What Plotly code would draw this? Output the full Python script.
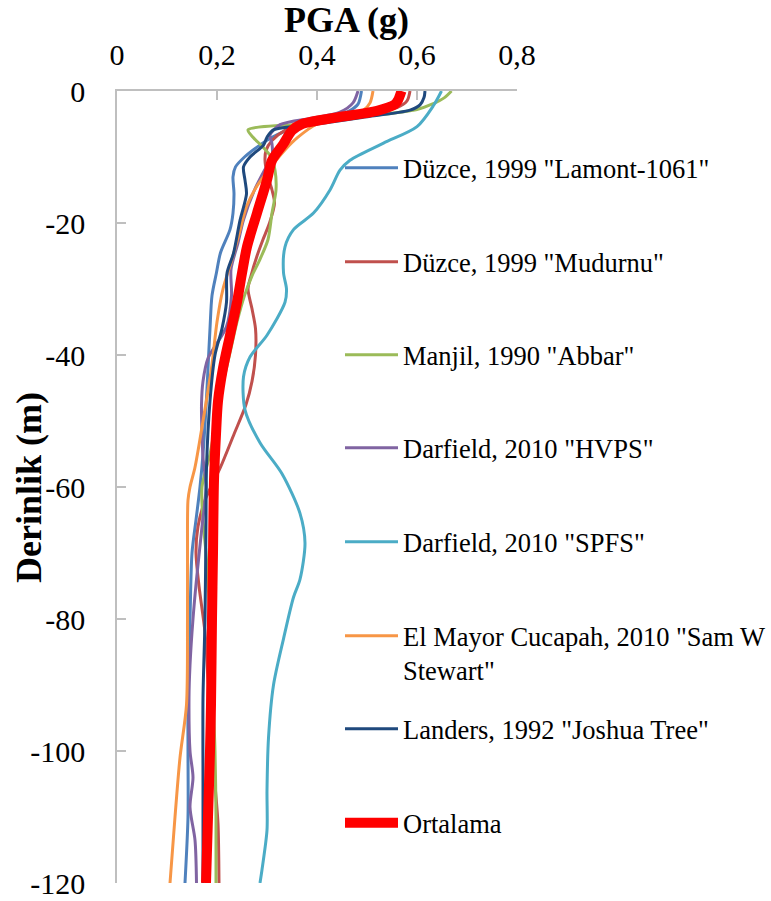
import plotly.graph_objects as go

# ---------------- data (depth in m, PGA in g) ----------------
lamont_depth = [0, 2, 3, 4, 5, 6, 7, 8.5, 10, 11.5, 13, 15.5, 18.5, 21, 24.5, 27.5, 31, 36, 42, 48, 55, 60, 65, 70, 80, 92, 100, 110, 120]
lamont_pga = [0.489, 0.482, 0.465, 0.43, 0.38, 0.34, 0.31, 0.28, 0.255, 0.237, 0.232, 0.234, 0.232, 0.226, 0.207, 0.199, 0.19, 0.186, 0.182, 0.178, 0.172, 0.166, 0.158, 0.15, 0.146, 0.142, 0.142, 0.142, 0.136]

mudurnu_depth = [0, 1.5, 2.5, 3.2, 4, 5, 6, 7.5, 9, 10.5, 12.5, 15, 17, 20, 22.5, 25, 28, 30, 33, 36, 40, 44, 47.5, 52, 57, 62, 66, 70, 75, 82, 89, 95, 105, 111, 120]
mudurnu_pga = [0.586, 0.58, 0.56, 0.51, 0.44, 0.375, 0.335, 0.31, 0.298, 0.296, 0.30, 0.31, 0.315, 0.305, 0.292, 0.28, 0.268, 0.262, 0.27, 0.277, 0.277, 0.27, 0.258, 0.234, 0.207, 0.176, 0.162, 0.158, 0.164, 0.176, 0.182, 0.188, 0.196, 0.202, 0.204]

manjil_depth = [0, 1, 2, 2.8, 4, 5, 5.9, 7, 8.5, 10, 12, 15, 18.5, 22.5, 25.5, 28, 31, 35, 40, 45, 50, 55, 60, 65, 70, 80, 92, 100, 110, 120]
manjil_pga = [0.669, 0.655, 0.63, 0.60, 0.48, 0.37, 0.262, 0.272, 0.292, 0.308, 0.316, 0.318, 0.31, 0.302, 0.286, 0.27, 0.255, 0.24, 0.225, 0.21, 0.198, 0.186, 0.17, 0.172, 0.178, 0.186, 0.192, 0.196, 0.198, 0.198]

hvps_depth = [0, 1.8, 3.2, 4.1, 5.1, 6.7, 8, 10, 12, 15, 19.5, 23, 27, 31, 35.7, 40.5, 44, 47.5, 52, 55.5, 60, 66, 74, 80, 87, 92, 100, 104, 108.5, 113.5, 120]
hvps_pga = [0.482, 0.472, 0.446, 0.392, 0.326, 0.306, 0.31, 0.31, 0.295, 0.275, 0.253, 0.242, 0.228, 0.229, 0.219, 0.182, 0.172, 0.169, 0.17, 0.172, 0.178, 0.17, 0.159, 0.152, 0.146, 0.144, 0.146, 0.152, 0.146, 0.156, 0.159]

spfs_depth = [0, 2.2, 5.4, 7.9, 10.5, 12, 15, 18.5, 21, 23.6, 27.5, 30, 32, 37, 40.3, 43.3, 48.3, 53.3, 58, 64, 68.5, 74, 76.7, 83, 90, 98, 106, 112, 118, 120]
spfs_pga = [0.649, 0.633, 0.60, 0.533, 0.466, 0.446, 0.426, 0.393, 0.353, 0.336, 0.333, 0.339, 0.336, 0.30, 0.266, 0.253, 0.256, 0.286, 0.33, 0.366, 0.376, 0.366, 0.353, 0.333, 0.313, 0.303, 0.30, 0.30, 0.29, 0.286]

elmayor_depth = [0, 1.8, 2.9, 4, 5, 7, 9, 11, 14.5, 17.5, 22, 26, 30, 35, 42, 50, 57, 60, 62, 70, 80, 93, 101, 110, 120]
elmayor_pga = [0.512, 0.506, 0.493, 0.45, 0.40, 0.362, 0.335, 0.313, 0.279, 0.259, 0.243, 0.228, 0.212, 0.20, 0.189, 0.172, 0.156, 0.146, 0.142, 0.141, 0.141, 0.139, 0.126, 0.116, 0.106]

landers_depth = [0, 1, 2.1, 2.9, 4, 5, 5.9, 7, 8.2, 10, 11.5, 13.5, 15.6, 19.6, 24.6, 27.6, 32, 36, 40, 47, 57, 65, 80, 92, 105, 120]
landers_pga = [0.616, 0.614, 0.606, 0.586, 0.49, 0.40, 0.313, 0.30, 0.293, 0.266, 0.253, 0.256, 0.259, 0.246, 0.233, 0.22, 0.219, 0.21, 0.196, 0.186, 0.179, 0.178, 0.176, 0.172, 0.172, 0.172]

mean_depth = [0, 1.4, 2, 3, 4, 5, 6, 8, 10.5, 13.5, 18.5, 23.6, 27.6, 32, 37, 42, 47, 52, 59, 70, 80, 93, 100, 110, 120]
mean_pga = [0.569, 0.562, 0.556, 0.52, 0.44, 0.37, 0.35, 0.333, 0.31, 0.30, 0.28, 0.26, 0.25, 0.24, 0.226, 0.212, 0.202, 0.198, 0.194, 0.192, 0.19, 0.188, 0.186, 0.182, 0.178]

series_names = ['Düzce, 1999 "Lamont-1061"', 'Düzce, 1999 "Mudurnu"', 'Manjil, 1990 "Abbar"',
                'Darfield, 2010 "HVPS"', 'Darfield, 2010 "SPFS"',
                'El Mayor Cucapah, 2010 "Sam W<br>Stewart"', 'Landers, 1992 "Joshua Tree"', 'Ortalama']
series_colors = ['#4f81bd', '#c0504d', '#9bbb59', '#8064a2', '#4bacc6', '#f79646', '#1f497d', '#ff0000']

x_tickvals = [0, 0.2, 0.4, 0.6, 0.8]
x_ticktext = ['0', '0,2', '0,4', '0,6', '0,8']
y_tickvals = [0, -20, -40, -60, -80, -100, -120]
y_ticktext = ['0', '-20', '-40', '-60', '-80', '-100', '-120']
x_title = '<b>PGA (g)</b>'
y_title = '<b>Derinlik (m)</b>'

series_depths = [lamont_depth, mudurnu_depth, manjil_depth, hvps_depth, spfs_depth, elmayor_depth, landers_depth, mean_depth]
series_pgas = [lamont_pga, mudurnu_pga, manjil_pga, hvps_pga, spfs_pga, elmayor_pga, landers_pga, mean_pga]

# ---------------- layout geometry (page pixels; body margin removed below) ----------------
W, H = 771, 901
L, R, T, B = 117, 517, 91, 883
FONT = 'Liberation Serif, Times New Roman, serif'

legend_centers = [168, 262, 355, 448, 542, 653, 729, 823]
legend_left = 340


def px_to_paper_x(px):
    return (px - L) / (R - L)


def px_to_paper_y(py):
    return (B - py) / (B - T)


fig = go.Figure()
for i, (name, col, dep, pga) in enumerate(zip(series_names, series_colors, series_depths, series_pgas)):
    lw = 10 if name == 'Ortalama' else 3
    lname = 'legend' if i == 0 else f'legend{i+1}'
    fig.add_trace(go.Scatter(
        x=pga, y=[-d for d in dep], mode='lines', name=name,
        line=dict(color=col, width=lw, shape='spline', smoothing=0.8),
        legend=lname, showlegend=True,
    ))

layout_legends = {}
for i, yc in enumerate(legend_centers):
    lname = 'legend' if i == 0 else f'legend{i+1}'
    layout_legends[lname] = dict(
        x=px_to_paper_x(legend_left), xanchor='left',
        y=px_to_paper_y(yc), yanchor='middle',
        bgcolor='rgba(0,0,0,0)', borderwidth=0,
        font=dict(family=FONT, size=26.5, color='black'),
        valign='top', itemwidth=53,
    )

fig.update_layout(
    width=W, height=H,
    margin=dict(l=L, r=W - R, t=T, b=H - B, pad=0, autoexpand=False),
    paper_bgcolor='white', plot_bgcolor='white',
    font=dict(family=FONT, color='black'),
    **layout_legends,
)

fig.update_xaxes(
    side='top', range=[0, 0.8], tickvals=x_tickvals, ticktext=x_ticktext,
    showgrid=False, zeroline=False, showline=True, linecolor='#bfbfbf', linewidth=1.5,
    ticks='inside', ticklen=9, tickcolor='#bfbfbf', tickwidth=1.5,
    tickfont=dict(family=FONT, size=30, color='black'), ticklabelstandoff=12,
    automargin=False, fixedrange=True,
)
fig.update_yaxes(
    range=[-120, 0], tickvals=y_tickvals, ticktext=y_ticktext,
    showgrid=False, zeroline=False, showline=True, linecolor='#bfbfbf', linewidth=1.5,
    ticks='inside', ticklen=9, tickcolor='#bfbfbf', tickwidth=1.5,
    tickfont=dict(family=FONT, size=30, color='black'), ticklabelstandoff=24,
    automargin=False, fixedrange=True,
)

fig.add_annotation(
    text=x_title, xref='paper', yref='paper',
    x=px_to_paper_x(346), y=px_to_paper_y(20), xanchor='center', yanchor='middle',
    showarrow=False, font=dict(family=FONT, size=36, color='black'),
)
fig.add_annotation(
    text=y_title, textangle=-90, xref='paper', yref='paper',
    x=px_to_paper_x(29), y=px_to_paper_y(488), xanchor='center', yanchor='middle',
    showarrow=False, font=dict(family=FONT, size=36, color='black'),
)

fig.write_html('out.html', config={'displayModeBar': False},
               post_script="document.body.style.margin='0px';")
